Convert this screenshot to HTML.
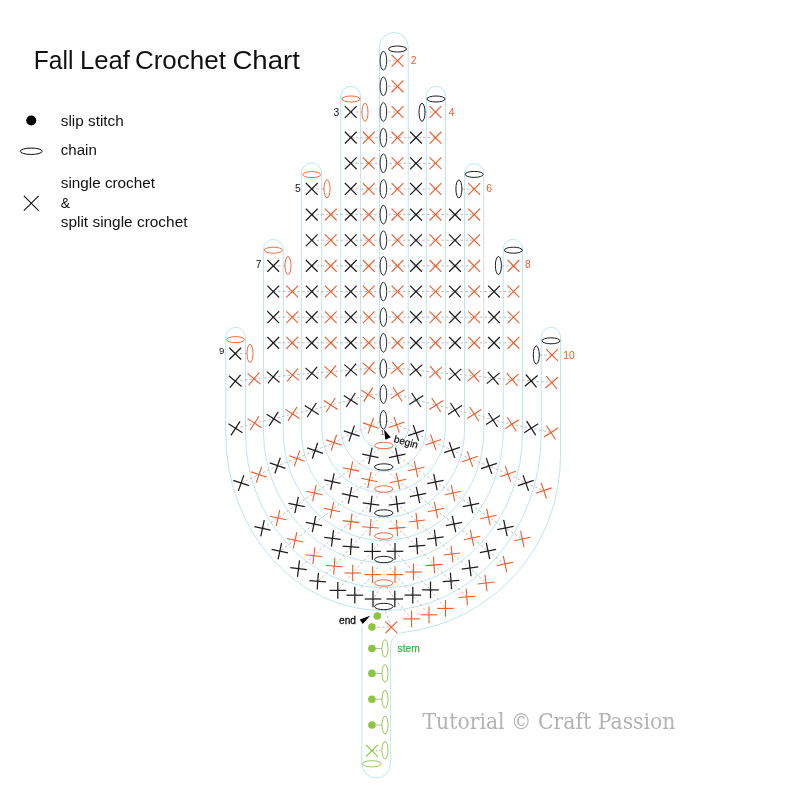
<!DOCTYPE html>
<html><head><meta charset="utf-8"><title>Fall Leaf Crochet Chart</title>
<style>
html,body{margin:0;padding:0;background:#fff;-webkit-font-smoothing:antialiased;}
body{width:800px;height:800px;overflow:hidden;}
svg{display:block;font-family:"Liberation Sans",sans-serif;will-change:transform;opacity:0.999;}
</style></head><body>
<svg width="800" height="800" viewBox="0 0 800 800">
<rect width="800" height="800" fill="#fff"/>
<path d="M379.5,428.5 V46.9 A14.375,14.375 0 0 1 408.25,46.9 V428 A23.88,21.30 0 0 1 360.5,428 V96 A9.88,9.88 0 0 0 340.75,96 V428.5 A42.75,42.80 0 0 0 426.25,428.5 V96 A9.62,9.62 0 0 1 445.5,96 V429 A61.88,64.50 0 0 1 321.75,429 V173.2 A10.22,10.22 0 0 0 301.3,173.2 V430 A81.60,87.50 0 0 0 464.5,430 V173.2 A9.62,9.62 0 0 1 483.75,173.2 V431 A100.25,109.50 0 0 1 283.25,431 V249 A9.88,9.88 0 0 0 263.5,249 V432 A119.88,132.00 0 0 0 503.25,432 V249 A9.62,9.62 0 0 1 522.5,249 V433 A138.50,154.70 0 0 1 245.5,433 V337 A9.88,9.88 0 0 0 225.75,337 V434 A157.75,176.60 0 0 0 541.25,434 V337 A9.62,9.62 0 0 1 560.5,337 V456.5 A177,177 0 0 1 403.05,632.42 A14,14 0 0 0 390.6,646.33 V763.6 A14.35,14.35 0 0 1 361.9,763.6 V625.5" fill="none" stroke="#addfea" stroke-width="0.8"/>
<polyline points="383.4,60.7 397.5,60.7" fill="none" stroke="#a2a2a2" stroke-width="0.7" stroke-dasharray="2.6 2.2"/>
<polyline points="383.4,86.3 397.5,86.3" fill="none" stroke="#a2a2a2" stroke-width="0.7" stroke-dasharray="2.6 2.2"/>
<polyline points="351.0,112.0 362.0,112.0" fill="none" stroke="#a2a2a2" stroke-width="0.7" stroke-dasharray="2.6 2.2"/>
<polyline points="383.4,112.0 397.5,112.0" fill="none" stroke="#a2a2a2" stroke-width="0.7" stroke-dasharray="2.6 2.2"/>
<polyline points="425.0,112.0 436.0,112.0" fill="none" stroke="#a2a2a2" stroke-width="0.7" stroke-dasharray="2.6 2.2"/>
<polyline points="351.0,137.6 436.0,137.6" fill="none" stroke="#a2a2a2" stroke-width="0.7" stroke-dasharray="2.6 2.2"/>
<polyline points="351.0,163.3 436.0,163.3" fill="none" stroke="#a2a2a2" stroke-width="0.7" stroke-dasharray="2.6 2.2"/>
<polyline points="311.8,188.9 324.0,188.9" fill="none" stroke="#a2a2a2" stroke-width="0.7" stroke-dasharray="2.6 2.2"/>
<polyline points="350.8,188.9 435.5,188.9" fill="none" stroke="#a2a2a2" stroke-width="0.7" stroke-dasharray="2.6 2.2"/>
<polyline points="462.0,188.9 474.2,188.9" fill="none" stroke="#a2a2a2" stroke-width="0.7" stroke-dasharray="2.6 2.2"/>
<polyline points="311.8,214.6 474.2,214.6" fill="none" stroke="#a2a2a2" stroke-width="0.7" stroke-dasharray="2.6 2.2"/>
<polyline points="311.8,240.2 474.2,240.2" fill="none" stroke="#a2a2a2" stroke-width="0.7" stroke-dasharray="2.6 2.2"/>
<polyline points="273.2,265.9 285.0,265.9" fill="none" stroke="#a2a2a2" stroke-width="0.7" stroke-dasharray="2.6 2.2"/>
<polyline points="311.8,265.9 474.2,265.9" fill="none" stroke="#a2a2a2" stroke-width="0.7" stroke-dasharray="2.6 2.2"/>
<polyline points="501.5,265.9 513.5,265.9" fill="none" stroke="#a2a2a2" stroke-width="0.7" stroke-dasharray="2.6 2.2"/>
<polyline points="273.2,291.6 513.5,291.6" fill="none" stroke="#a2a2a2" stroke-width="0.7" stroke-dasharray="2.6 2.2"/>
<polyline points="273.2,317.2 513.5,317.2" fill="none" stroke="#a2a2a2" stroke-width="0.7" stroke-dasharray="2.6 2.2"/>
<polyline points="273.2,342.8 513.5,342.8" fill="none" stroke="#a2a2a2" stroke-width="0.7" stroke-dasharray="2.6 2.2"/>
<polyline points="235.2,353.5 247.0,353.5" fill="none" stroke="#a2a2a2" stroke-width="0.7" stroke-dasharray="2.6 2.2"/>
<polyline points="539.4,355.0 552.0,355.0" fill="none" stroke="#a2a2a2" stroke-width="0.7" stroke-dasharray="2.6 2.2"/>
<polyline points="235.2,381.2 254.0,378.8 273.2,377.0 292.5,375.0 311.8,373.2 330.8,371.8 350.8,370.0 369.0,368.2 383.4,368.5 397.5,368.2 416.0,370.0 435.5,372.5 455.0,374.2 474.0,375.8 493.2,378.2 512.2,379.5 531.2,380.9 551.7,382.6" fill="none" stroke="#a2a2a2" stroke-width="0.7" stroke-dasharray="2.6 2.2"/>
<polyline points="235.5,428.3 254.5,423.2 273.7,418.8 292.5,413.9 311.8,410.0 330.8,405.0 350.8,400.0 368.2,394.6 383.4,394.1 397.5,394.3 416.2,400.0 436.2,405.0 455.0,410.0 474.2,414.0 493.0,420.0 511.8,424.3 531.2,428.2 551.0,432.5" fill="none" stroke="#a2a2a2" stroke-width="0.7" stroke-dasharray="2.6 2.2"/>
<polyline points="241.1,483.0 259.0,474.6 277.6,465.6 297.0,458.5 315.0,450.6 333.9,442.6 351.7,433.5 370.8,425.6 383.4,419.8 396.6,424.7 416.0,433.0 433.3,442.3 452.0,450.0 470.0,459.0 489.0,466.0 508.0,474.0 525.8,483.0 543.8,490.6" fill="none" stroke="#a2a2a2" stroke-width="0.7" stroke-dasharray="2.6 2.2"/>
<polyline points="383.8,445.5 370.4,455.9 351.0,469.4 332.4,481.6 314.4,493.0 296.6,505.0 278.0,518.0 262.5,528.3" fill="none" stroke="#a2a2a2" stroke-width="0.7" stroke-dasharray="2.6 2.2"/>
<polyline points="383.8,467.0 369.4,480.0 350.0,495.4 332.0,510.0 314.0,524.0 295.1,540.2 279.8,551.2" fill="none" stroke="#a2a2a2" stroke-width="0.7" stroke-dasharray="2.6 2.2"/>
<polyline points="383.8,489.0 371.0,504.0 351.0,521.6 332.5,538.4 313.9,555.7 298.5,568.6" fill="none" stroke="#a2a2a2" stroke-width="0.7" stroke-dasharray="2.6 2.2"/>
<polyline points="383.8,513.0 370.4,527.4 351.0,546.7 334.3,566.1 317.8,581.2" fill="none" stroke="#a2a2a2" stroke-width="0.7" stroke-dasharray="2.6 2.2"/>
<polyline points="383.8,536.0 372.4,551.4 352.7,573.0 337.8,590.4" fill="none" stroke="#a2a2a2" stroke-width="0.7" stroke-dasharray="2.6 2.2"/>
<polyline points="383.8,559.5 372.6,574.6 354.8,595.2" fill="none" stroke="#a2a2a2" stroke-width="0.7" stroke-dasharray="2.6 2.2"/>
<polyline points="383.8,583.0 373.0,599.0" fill="none" stroke="#a2a2a2" stroke-width="0.7" stroke-dasharray="2.6 2.2"/>
<polyline points="383.8,445.5 397.2,455.8 416.0,469.0 435.4,482.0 453.0,493.0 471.0,505.0 488.4,517.0 505.4,528.0 522.3,539.0" fill="none" stroke="#a2a2a2" stroke-width="0.7" stroke-dasharray="2.6 2.2"/>
<polyline points="383.8,467.0 398.0,481.0 418.0,495.0 436.0,510.0 454.0,524.0 472.0,538.0 488.0,551.0 505.0,564.0" fill="none" stroke="#a2a2a2" stroke-width="0.7" stroke-dasharray="2.6 2.2"/>
<polyline points="383.8,489.0 397.0,504.0 417.0,521.0 435.4,538.0 452.0,554.0 470.0,568.0 486.0,583.0" fill="none" stroke="#a2a2a2" stroke-width="0.7" stroke-dasharray="2.6 2.2"/>
<polyline points="383.8,513.0 397.0,528.0 417.0,546.0 434.0,565.0 451.0,581.0 466.8,596.9" fill="none" stroke="#a2a2a2" stroke-width="0.7" stroke-dasharray="2.6 2.2"/>
<polyline points="383.8,536.0 395.0,551.3 413.5,572.0 430.5,589.9 445.5,608.4" fill="none" stroke="#a2a2a2" stroke-width="0.7" stroke-dasharray="2.6 2.2"/>
<polyline points="383.8,559.5 395.0,574.6 412.8,595.1 429.0,614.8" fill="none" stroke="#a2a2a2" stroke-width="0.7" stroke-dasharray="2.6 2.2"/>
<polyline points="383.8,583.0 394.8,599.0 411.6,618.9" fill="none" stroke="#a2a2a2" stroke-width="0.7" stroke-dasharray="2.6 2.2"/>
<polyline points="383.8,606.5 391.3,627.2 372.0,627.2" fill="none" stroke="#a2a2a2" stroke-width="0.7" stroke-dasharray="2.6 2.2"/>
<line x1="372" y1="648.5" x2="382" y2="648.5" stroke="#a2a2a2" stroke-width="0.8"/>
<line x1="372" y1="673.4" x2="382" y2="673.4" stroke="#a2a2a2" stroke-width="0.8"/>
<line x1="372" y1="699.2" x2="382" y2="699.2" stroke="#a2a2a2" stroke-width="0.8"/>
<line x1="372" y1="725" x2="382" y2="725" stroke="#a2a2a2" stroke-width="0.8"/>
<line x1="372" y1="750.7" x2="382" y2="750.7" stroke="#a2a2a2" stroke-width="0.8" stroke-dasharray="2 1.6"/>
<ellipse cx="383.4" cy="60.7" rx="3.3" ry="9.3" fill="#fff" stroke="#2a2a2a" stroke-width="1.0"/>
<ellipse cx="383.4" cy="86.35" rx="3.3" ry="9.3" fill="#fff" stroke="#2a2a2a" stroke-width="1.0"/>
<ellipse cx="383.4" cy="112.0" rx="3.3" ry="9.3" fill="#fff" stroke="#2a2a2a" stroke-width="1.0"/>
<ellipse cx="383.4" cy="137.64999999999998" rx="3.3" ry="9.3" fill="#fff" stroke="#2a2a2a" stroke-width="1.0"/>
<ellipse cx="383.4" cy="163.3" rx="3.3" ry="9.3" fill="#fff" stroke="#2a2a2a" stroke-width="1.0"/>
<ellipse cx="383.4" cy="188.95" rx="3.3" ry="9.3" fill="#fff" stroke="#2a2a2a" stroke-width="1.0"/>
<ellipse cx="383.4" cy="214.59999999999997" rx="3.3" ry="9.3" fill="#fff" stroke="#2a2a2a" stroke-width="1.0"/>
<ellipse cx="383.4" cy="240.25" rx="3.3" ry="9.3" fill="#fff" stroke="#2a2a2a" stroke-width="1.0"/>
<ellipse cx="383.4" cy="265.9" rx="3.3" ry="9.3" fill="#fff" stroke="#2a2a2a" stroke-width="1.0"/>
<ellipse cx="383.4" cy="291.55" rx="3.3" ry="9.3" fill="#fff" stroke="#2a2a2a" stroke-width="1.0"/>
<ellipse cx="383.4" cy="317.2" rx="3.3" ry="9.3" fill="#fff" stroke="#2a2a2a" stroke-width="1.0"/>
<ellipse cx="383.4" cy="342.84999999999997" rx="3.3" ry="9.3" fill="#fff" stroke="#2a2a2a" stroke-width="1.0"/>
<ellipse cx="383.4" cy="368.49999999999994" rx="3.3" ry="9.3" fill="#fff" stroke="#2a2a2a" stroke-width="1.0"/>
<ellipse cx="383.4" cy="394.15" rx="3.3" ry="9.3" fill="#fff" stroke="#2a2a2a" stroke-width="1.0"/>
<ellipse cx="383.4" cy="419.79999999999995" rx="3.3" ry="9.3" fill="#fff" stroke="#2a2a2a" stroke-width="1.0"/>
<ellipse cx="351" cy="99" rx="9.0" ry="3.0" fill="none" stroke="#f05a28" stroke-width="0.9"/>
<ellipse cx="365" cy="112.3" rx="3.0" ry="9.0" fill="none" stroke="#f05a28" stroke-width="0.9"/>
<ellipse cx="436" cy="99" rx="9.0" ry="3.0" fill="none" stroke="#1d1d1d" stroke-width="1.0"/>
<ellipse cx="422" cy="112.3" rx="3.0" ry="9.0" fill="none" stroke="#1d1d1d" stroke-width="1.0"/>
<ellipse cx="311.75" cy="174.6" rx="9.0" ry="3.0" fill="none" stroke="#f05a28" stroke-width="0.9"/>
<ellipse cx="327" cy="188.9" rx="3.0" ry="9.0" fill="none" stroke="#f05a28" stroke-width="0.9"/>
<ellipse cx="474.2" cy="174.4" rx="9.0" ry="3.0" fill="none" stroke="#1d1d1d" stroke-width="1.0"/>
<ellipse cx="458.9" cy="188.9" rx="3.0" ry="9.0" fill="none" stroke="#1d1d1d" stroke-width="1.0"/>
<ellipse cx="273.25" cy="250.2" rx="9.0" ry="3.0" fill="none" stroke="#f05a28" stroke-width="0.9"/>
<ellipse cx="288" cy="265.5" rx="3.0" ry="9.0" fill="none" stroke="#f05a28" stroke-width="0.9"/>
<ellipse cx="513.3" cy="250.2" rx="9.0" ry="3.0" fill="none" stroke="#1d1d1d" stroke-width="1.0"/>
<ellipse cx="498.4" cy="265.5" rx="3.0" ry="9.0" fill="none" stroke="#1d1d1d" stroke-width="1.0"/>
<ellipse cx="235.6" cy="339.6" rx="9.0" ry="3.0" fill="none" stroke="#f05a28" stroke-width="0.9"/>
<ellipse cx="250" cy="353.4" rx="3.0" ry="9.0" fill="none" stroke="#f05a28" stroke-width="0.9"/>
<ellipse cx="551" cy="340.8" rx="9.0" ry="3.0" fill="none" stroke="#1d1d1d" stroke-width="1.0"/>
<ellipse cx="536.3" cy="355" rx="3.0" ry="9.0" fill="none" stroke="#1d1d1d" stroke-width="1.0"/>
<ellipse cx="397.5" cy="49" rx="9.0" ry="3.0" fill="none" stroke="#1d1d1d" stroke-width="1.0"/>
<ellipse cx="383.8" cy="445.5" rx="9.2" ry="3.2" fill="#fff" stroke="#f05a28" stroke-width="0.9"/>
<ellipse cx="383.8" cy="467" rx="9.2" ry="3.2" fill="#fff" stroke="#1d1d1d" stroke-width="1.0"/>
<ellipse cx="383.8" cy="489" rx="9.2" ry="3.2" fill="#fff" stroke="#f05a28" stroke-width="0.9"/>
<ellipse cx="383.8" cy="513" rx="9.2" ry="3.2" fill="#fff" stroke="#1d1d1d" stroke-width="1.0"/>
<ellipse cx="383.8" cy="536" rx="9.2" ry="3.2" fill="#fff" stroke="#f05a28" stroke-width="0.9"/>
<ellipse cx="383.8" cy="559.5" rx="9.2" ry="3.2" fill="#fff" stroke="#1d1d1d" stroke-width="1.0"/>
<ellipse cx="383.8" cy="583" rx="9.2" ry="3.2" fill="#fff" stroke="#f05a28" stroke-width="0.9"/>
<ellipse cx="383.8" cy="606.5" rx="9.2" ry="3.2" fill="#fff" stroke="#1d1d1d" stroke-width="1.0"/>
<g transform="translate(368.75,137.65) rotate(45)" stroke="#f05a28" stroke-width="1.1"><line x1="-8.34" y1="0" x2="8.34" y2="0"/><line x1="0" y1="-8.34" x2="0" y2="8.34"/></g>
<g transform="translate(368.75,163.30) rotate(45)" stroke="#f05a28" stroke-width="1.1"><line x1="-8.34" y1="0" x2="8.34" y2="0"/><line x1="0" y1="-8.34" x2="0" y2="8.34"/></g>
<g transform="translate(368.75,188.95) rotate(45)" stroke="#f05a28" stroke-width="1.1"><line x1="-8.34" y1="0" x2="8.34" y2="0"/><line x1="0" y1="-8.34" x2="0" y2="8.34"/></g>
<g transform="translate(368.75,214.60) rotate(45)" stroke="#f05a28" stroke-width="1.1"><line x1="-8.34" y1="0" x2="8.34" y2="0"/><line x1="0" y1="-8.34" x2="0" y2="8.34"/></g>
<g transform="translate(368.75,240.25) rotate(45)" stroke="#f05a28" stroke-width="1.1"><line x1="-8.34" y1="0" x2="8.34" y2="0"/><line x1="0" y1="-8.34" x2="0" y2="8.34"/></g>
<g transform="translate(368.75,265.90) rotate(45)" stroke="#f05a28" stroke-width="1.1"><line x1="-8.34" y1="0" x2="8.34" y2="0"/><line x1="0" y1="-8.34" x2="0" y2="8.34"/></g>
<g transform="translate(368.75,291.55) rotate(45)" stroke="#f05a28" stroke-width="1.1"><line x1="-8.34" y1="0" x2="8.34" y2="0"/><line x1="0" y1="-8.34" x2="0" y2="8.34"/></g>
<g transform="translate(368.75,317.20) rotate(45)" stroke="#f05a28" stroke-width="1.1"><line x1="-8.34" y1="0" x2="8.34" y2="0"/><line x1="0" y1="-8.34" x2="0" y2="8.34"/></g>
<g transform="translate(368.75,342.85) rotate(45)" stroke="#f05a28" stroke-width="1.1"><line x1="-8.34" y1="0" x2="8.34" y2="0"/><line x1="0" y1="-8.34" x2="0" y2="8.34"/></g>
<g transform="translate(350.75,112.00) rotate(45)" stroke="#1d1d1d" stroke-width="1.25"><line x1="-8.34" y1="0" x2="8.34" y2="0"/><line x1="0" y1="-8.34" x2="0" y2="8.34"/></g>
<g transform="translate(350.75,137.65) rotate(45)" stroke="#1d1d1d" stroke-width="1.25"><line x1="-8.34" y1="0" x2="8.34" y2="0"/><line x1="0" y1="-8.34" x2="0" y2="8.34"/></g>
<g transform="translate(350.75,163.30) rotate(45)" stroke="#1d1d1d" stroke-width="1.25"><line x1="-8.34" y1="0" x2="8.34" y2="0"/><line x1="0" y1="-8.34" x2="0" y2="8.34"/></g>
<g transform="translate(350.75,188.95) rotate(45)" stroke="#1d1d1d" stroke-width="1.25"><line x1="-8.34" y1="0" x2="8.34" y2="0"/><line x1="0" y1="-8.34" x2="0" y2="8.34"/></g>
<g transform="translate(350.75,214.60) rotate(45)" stroke="#1d1d1d" stroke-width="1.25"><line x1="-8.34" y1="0" x2="8.34" y2="0"/><line x1="0" y1="-8.34" x2="0" y2="8.34"/></g>
<g transform="translate(350.75,240.25) rotate(45)" stroke="#1d1d1d" stroke-width="1.25"><line x1="-8.34" y1="0" x2="8.34" y2="0"/><line x1="0" y1="-8.34" x2="0" y2="8.34"/></g>
<g transform="translate(350.75,265.90) rotate(45)" stroke="#1d1d1d" stroke-width="1.25"><line x1="-8.34" y1="0" x2="8.34" y2="0"/><line x1="0" y1="-8.34" x2="0" y2="8.34"/></g>
<g transform="translate(350.75,291.55) rotate(45)" stroke="#1d1d1d" stroke-width="1.25"><line x1="-8.34" y1="0" x2="8.34" y2="0"/><line x1="0" y1="-8.34" x2="0" y2="8.34"/></g>
<g transform="translate(350.75,317.20) rotate(45)" stroke="#1d1d1d" stroke-width="1.25"><line x1="-8.34" y1="0" x2="8.34" y2="0"/><line x1="0" y1="-8.34" x2="0" y2="8.34"/></g>
<g transform="translate(350.75,342.85) rotate(45)" stroke="#1d1d1d" stroke-width="1.25"><line x1="-8.34" y1="0" x2="8.34" y2="0"/><line x1="0" y1="-8.34" x2="0" y2="8.34"/></g>
<g transform="translate(330.75,214.60) rotate(45)" stroke="#f05a28" stroke-width="1.1"><line x1="-8.34" y1="0" x2="8.34" y2="0"/><line x1="0" y1="-8.34" x2="0" y2="8.34"/></g>
<g transform="translate(330.75,240.25) rotate(45)" stroke="#f05a28" stroke-width="1.1"><line x1="-8.34" y1="0" x2="8.34" y2="0"/><line x1="0" y1="-8.34" x2="0" y2="8.34"/></g>
<g transform="translate(330.75,265.90) rotate(45)" stroke="#f05a28" stroke-width="1.1"><line x1="-8.34" y1="0" x2="8.34" y2="0"/><line x1="0" y1="-8.34" x2="0" y2="8.34"/></g>
<g transform="translate(330.75,291.55) rotate(45)" stroke="#f05a28" stroke-width="1.1"><line x1="-8.34" y1="0" x2="8.34" y2="0"/><line x1="0" y1="-8.34" x2="0" y2="8.34"/></g>
<g transform="translate(330.75,317.20) rotate(45)" stroke="#f05a28" stroke-width="1.1"><line x1="-8.34" y1="0" x2="8.34" y2="0"/><line x1="0" y1="-8.34" x2="0" y2="8.34"/></g>
<g transform="translate(330.75,342.85) rotate(45)" stroke="#f05a28" stroke-width="1.1"><line x1="-8.34" y1="0" x2="8.34" y2="0"/><line x1="0" y1="-8.34" x2="0" y2="8.34"/></g>
<g transform="translate(311.75,188.95) rotate(45)" stroke="#1d1d1d" stroke-width="1.25"><line x1="-8.34" y1="0" x2="8.34" y2="0"/><line x1="0" y1="-8.34" x2="0" y2="8.34"/></g>
<g transform="translate(311.75,214.60) rotate(45)" stroke="#1d1d1d" stroke-width="1.25"><line x1="-8.34" y1="0" x2="8.34" y2="0"/><line x1="0" y1="-8.34" x2="0" y2="8.34"/></g>
<g transform="translate(311.75,240.25) rotate(45)" stroke="#1d1d1d" stroke-width="1.25"><line x1="-8.34" y1="0" x2="8.34" y2="0"/><line x1="0" y1="-8.34" x2="0" y2="8.34"/></g>
<g transform="translate(311.75,265.90) rotate(45)" stroke="#1d1d1d" stroke-width="1.25"><line x1="-8.34" y1="0" x2="8.34" y2="0"/><line x1="0" y1="-8.34" x2="0" y2="8.34"/></g>
<g transform="translate(311.75,291.55) rotate(45)" stroke="#1d1d1d" stroke-width="1.25"><line x1="-8.34" y1="0" x2="8.34" y2="0"/><line x1="0" y1="-8.34" x2="0" y2="8.34"/></g>
<g transform="translate(311.75,317.20) rotate(45)" stroke="#1d1d1d" stroke-width="1.25"><line x1="-8.34" y1="0" x2="8.34" y2="0"/><line x1="0" y1="-8.34" x2="0" y2="8.34"/></g>
<g transform="translate(311.75,342.85) rotate(45)" stroke="#1d1d1d" stroke-width="1.25"><line x1="-8.34" y1="0" x2="8.34" y2="0"/><line x1="0" y1="-8.34" x2="0" y2="8.34"/></g>
<g transform="translate(292.20,291.55) rotate(45)" stroke="#f05a28" stroke-width="1.1"><line x1="-8.34" y1="0" x2="8.34" y2="0"/><line x1="0" y1="-8.34" x2="0" y2="8.34"/></g>
<g transform="translate(292.20,317.20) rotate(45)" stroke="#f05a28" stroke-width="1.1"><line x1="-8.34" y1="0" x2="8.34" y2="0"/><line x1="0" y1="-8.34" x2="0" y2="8.34"/></g>
<g transform="translate(292.20,342.85) rotate(45)" stroke="#f05a28" stroke-width="1.1"><line x1="-8.34" y1="0" x2="8.34" y2="0"/><line x1="0" y1="-8.34" x2="0" y2="8.34"/></g>
<g transform="translate(273.25,265.90) rotate(45)" stroke="#1d1d1d" stroke-width="1.25"><line x1="-8.34" y1="0" x2="8.34" y2="0"/><line x1="0" y1="-8.34" x2="0" y2="8.34"/></g>
<g transform="translate(273.25,291.55) rotate(45)" stroke="#1d1d1d" stroke-width="1.25"><line x1="-8.34" y1="0" x2="8.34" y2="0"/><line x1="0" y1="-8.34" x2="0" y2="8.34"/></g>
<g transform="translate(273.25,317.20) rotate(45)" stroke="#1d1d1d" stroke-width="1.25"><line x1="-8.34" y1="0" x2="8.34" y2="0"/><line x1="0" y1="-8.34" x2="0" y2="8.34"/></g>
<g transform="translate(273.25,342.85) rotate(45)" stroke="#1d1d1d" stroke-width="1.25"><line x1="-8.34" y1="0" x2="8.34" y2="0"/><line x1="0" y1="-8.34" x2="0" y2="8.34"/></g>
<g transform="translate(397.50,60.70) rotate(45)" stroke="#f05a28" stroke-width="1.1"><line x1="-8.34" y1="0" x2="8.34" y2="0"/><line x1="0" y1="-8.34" x2="0" y2="8.34"/></g>
<g transform="translate(397.50,86.35) rotate(45)" stroke="#f05a28" stroke-width="1.1"><line x1="-8.34" y1="0" x2="8.34" y2="0"/><line x1="0" y1="-8.34" x2="0" y2="8.34"/></g>
<g transform="translate(397.50,112.00) rotate(45)" stroke="#f05a28" stroke-width="1.1"><line x1="-8.34" y1="0" x2="8.34" y2="0"/><line x1="0" y1="-8.34" x2="0" y2="8.34"/></g>
<g transform="translate(397.50,137.65) rotate(45)" stroke="#f05a28" stroke-width="1.1"><line x1="-8.34" y1="0" x2="8.34" y2="0"/><line x1="0" y1="-8.34" x2="0" y2="8.34"/></g>
<g transform="translate(397.50,163.30) rotate(45)" stroke="#f05a28" stroke-width="1.1"><line x1="-8.34" y1="0" x2="8.34" y2="0"/><line x1="0" y1="-8.34" x2="0" y2="8.34"/></g>
<g transform="translate(397.50,188.95) rotate(45)" stroke="#f05a28" stroke-width="1.1"><line x1="-8.34" y1="0" x2="8.34" y2="0"/><line x1="0" y1="-8.34" x2="0" y2="8.34"/></g>
<g transform="translate(397.50,214.60) rotate(45)" stroke="#f05a28" stroke-width="1.1"><line x1="-8.34" y1="0" x2="8.34" y2="0"/><line x1="0" y1="-8.34" x2="0" y2="8.34"/></g>
<g transform="translate(397.50,240.25) rotate(45)" stroke="#f05a28" stroke-width="1.1"><line x1="-8.34" y1="0" x2="8.34" y2="0"/><line x1="0" y1="-8.34" x2="0" y2="8.34"/></g>
<g transform="translate(397.50,265.90) rotate(45)" stroke="#f05a28" stroke-width="1.1"><line x1="-8.34" y1="0" x2="8.34" y2="0"/><line x1="0" y1="-8.34" x2="0" y2="8.34"/></g>
<g transform="translate(397.50,291.55) rotate(45)" stroke="#f05a28" stroke-width="1.1"><line x1="-8.34" y1="0" x2="8.34" y2="0"/><line x1="0" y1="-8.34" x2="0" y2="8.34"/></g>
<g transform="translate(397.50,317.20) rotate(45)" stroke="#f05a28" stroke-width="1.1"><line x1="-8.34" y1="0" x2="8.34" y2="0"/><line x1="0" y1="-8.34" x2="0" y2="8.34"/></g>
<g transform="translate(397.50,342.85) rotate(45)" stroke="#f05a28" stroke-width="1.1"><line x1="-8.34" y1="0" x2="8.34" y2="0"/><line x1="0" y1="-8.34" x2="0" y2="8.34"/></g>
<g transform="translate(416.00,137.65) rotate(45)" stroke="#1d1d1d" stroke-width="1.25"><line x1="-8.34" y1="0" x2="8.34" y2="0"/><line x1="0" y1="-8.34" x2="0" y2="8.34"/></g>
<g transform="translate(416.00,163.30) rotate(45)" stroke="#1d1d1d" stroke-width="1.25"><line x1="-8.34" y1="0" x2="8.34" y2="0"/><line x1="0" y1="-8.34" x2="0" y2="8.34"/></g>
<g transform="translate(416.00,188.95) rotate(45)" stroke="#1d1d1d" stroke-width="1.25"><line x1="-8.34" y1="0" x2="8.34" y2="0"/><line x1="0" y1="-8.34" x2="0" y2="8.34"/></g>
<g transform="translate(416.00,214.60) rotate(45)" stroke="#1d1d1d" stroke-width="1.25"><line x1="-8.34" y1="0" x2="8.34" y2="0"/><line x1="0" y1="-8.34" x2="0" y2="8.34"/></g>
<g transform="translate(416.00,240.25) rotate(45)" stroke="#1d1d1d" stroke-width="1.25"><line x1="-8.34" y1="0" x2="8.34" y2="0"/><line x1="0" y1="-8.34" x2="0" y2="8.34"/></g>
<g transform="translate(416.00,265.90) rotate(45)" stroke="#1d1d1d" stroke-width="1.25"><line x1="-8.34" y1="0" x2="8.34" y2="0"/><line x1="0" y1="-8.34" x2="0" y2="8.34"/></g>
<g transform="translate(416.00,291.55) rotate(45)" stroke="#1d1d1d" stroke-width="1.25"><line x1="-8.34" y1="0" x2="8.34" y2="0"/><line x1="0" y1="-8.34" x2="0" y2="8.34"/></g>
<g transform="translate(416.00,317.20) rotate(45)" stroke="#1d1d1d" stroke-width="1.25"><line x1="-8.34" y1="0" x2="8.34" y2="0"/><line x1="0" y1="-8.34" x2="0" y2="8.34"/></g>
<g transform="translate(416.00,342.85) rotate(45)" stroke="#1d1d1d" stroke-width="1.25"><line x1="-8.34" y1="0" x2="8.34" y2="0"/><line x1="0" y1="-8.34" x2="0" y2="8.34"/></g>
<g transform="translate(435.50,112.00) rotate(45)" stroke="#f05a28" stroke-width="1.1"><line x1="-8.34" y1="0" x2="8.34" y2="0"/><line x1="0" y1="-8.34" x2="0" y2="8.34"/></g>
<g transform="translate(435.50,137.65) rotate(45)" stroke="#f05a28" stroke-width="1.1"><line x1="-8.34" y1="0" x2="8.34" y2="0"/><line x1="0" y1="-8.34" x2="0" y2="8.34"/></g>
<g transform="translate(435.50,163.30) rotate(45)" stroke="#f05a28" stroke-width="1.1"><line x1="-8.34" y1="0" x2="8.34" y2="0"/><line x1="0" y1="-8.34" x2="0" y2="8.34"/></g>
<g transform="translate(435.50,188.95) rotate(45)" stroke="#f05a28" stroke-width="1.1"><line x1="-8.34" y1="0" x2="8.34" y2="0"/><line x1="0" y1="-8.34" x2="0" y2="8.34"/></g>
<g transform="translate(435.50,214.60) rotate(45)" stroke="#f05a28" stroke-width="1.1"><line x1="-8.34" y1="0" x2="8.34" y2="0"/><line x1="0" y1="-8.34" x2="0" y2="8.34"/></g>
<g transform="translate(435.50,240.25) rotate(45)" stroke="#f05a28" stroke-width="1.1"><line x1="-8.34" y1="0" x2="8.34" y2="0"/><line x1="0" y1="-8.34" x2="0" y2="8.34"/></g>
<g transform="translate(435.50,265.90) rotate(45)" stroke="#f05a28" stroke-width="1.1"><line x1="-8.34" y1="0" x2="8.34" y2="0"/><line x1="0" y1="-8.34" x2="0" y2="8.34"/></g>
<g transform="translate(435.50,291.55) rotate(45)" stroke="#f05a28" stroke-width="1.1"><line x1="-8.34" y1="0" x2="8.34" y2="0"/><line x1="0" y1="-8.34" x2="0" y2="8.34"/></g>
<g transform="translate(435.50,317.20) rotate(45)" stroke="#f05a28" stroke-width="1.1"><line x1="-8.34" y1="0" x2="8.34" y2="0"/><line x1="0" y1="-8.34" x2="0" y2="8.34"/></g>
<g transform="translate(435.50,342.85) rotate(45)" stroke="#f05a28" stroke-width="1.1"><line x1="-8.34" y1="0" x2="8.34" y2="0"/><line x1="0" y1="-8.34" x2="0" y2="8.34"/></g>
<g transform="translate(455.00,214.60) rotate(45)" stroke="#1d1d1d" stroke-width="1.25"><line x1="-8.34" y1="0" x2="8.34" y2="0"/><line x1="0" y1="-8.34" x2="0" y2="8.34"/></g>
<g transform="translate(455.00,240.25) rotate(45)" stroke="#1d1d1d" stroke-width="1.25"><line x1="-8.34" y1="0" x2="8.34" y2="0"/><line x1="0" y1="-8.34" x2="0" y2="8.34"/></g>
<g transform="translate(455.00,265.90) rotate(45)" stroke="#1d1d1d" stroke-width="1.25"><line x1="-8.34" y1="0" x2="8.34" y2="0"/><line x1="0" y1="-8.34" x2="0" y2="8.34"/></g>
<g transform="translate(455.00,291.55) rotate(45)" stroke="#1d1d1d" stroke-width="1.25"><line x1="-8.34" y1="0" x2="8.34" y2="0"/><line x1="0" y1="-8.34" x2="0" y2="8.34"/></g>
<g transform="translate(455.00,317.20) rotate(45)" stroke="#1d1d1d" stroke-width="1.25"><line x1="-8.34" y1="0" x2="8.34" y2="0"/><line x1="0" y1="-8.34" x2="0" y2="8.34"/></g>
<g transform="translate(455.00,342.85) rotate(45)" stroke="#1d1d1d" stroke-width="1.25"><line x1="-8.34" y1="0" x2="8.34" y2="0"/><line x1="0" y1="-8.34" x2="0" y2="8.34"/></g>
<g transform="translate(474.20,188.95) rotate(45)" stroke="#f05a28" stroke-width="1.1"><line x1="-8.34" y1="0" x2="8.34" y2="0"/><line x1="0" y1="-8.34" x2="0" y2="8.34"/></g>
<g transform="translate(474.20,214.60) rotate(45)" stroke="#f05a28" stroke-width="1.1"><line x1="-8.34" y1="0" x2="8.34" y2="0"/><line x1="0" y1="-8.34" x2="0" y2="8.34"/></g>
<g transform="translate(474.20,240.25) rotate(45)" stroke="#f05a28" stroke-width="1.1"><line x1="-8.34" y1="0" x2="8.34" y2="0"/><line x1="0" y1="-8.34" x2="0" y2="8.34"/></g>
<g transform="translate(474.20,265.90) rotate(45)" stroke="#f05a28" stroke-width="1.1"><line x1="-8.34" y1="0" x2="8.34" y2="0"/><line x1="0" y1="-8.34" x2="0" y2="8.34"/></g>
<g transform="translate(474.20,291.55) rotate(45)" stroke="#f05a28" stroke-width="1.1"><line x1="-8.34" y1="0" x2="8.34" y2="0"/><line x1="0" y1="-8.34" x2="0" y2="8.34"/></g>
<g transform="translate(474.20,317.20) rotate(45)" stroke="#f05a28" stroke-width="1.1"><line x1="-8.34" y1="0" x2="8.34" y2="0"/><line x1="0" y1="-8.34" x2="0" y2="8.34"/></g>
<g transform="translate(474.20,342.85) rotate(45)" stroke="#f05a28" stroke-width="1.1"><line x1="-8.34" y1="0" x2="8.34" y2="0"/><line x1="0" y1="-8.34" x2="0" y2="8.34"/></g>
<g transform="translate(494.00,291.55) rotate(45)" stroke="#1d1d1d" stroke-width="1.25"><line x1="-8.34" y1="0" x2="8.34" y2="0"/><line x1="0" y1="-8.34" x2="0" y2="8.34"/></g>
<g transform="translate(494.00,317.20) rotate(45)" stroke="#1d1d1d" stroke-width="1.25"><line x1="-8.34" y1="0" x2="8.34" y2="0"/><line x1="0" y1="-8.34" x2="0" y2="8.34"/></g>
<g transform="translate(494.00,342.85) rotate(45)" stroke="#1d1d1d" stroke-width="1.25"><line x1="-8.34" y1="0" x2="8.34" y2="0"/><line x1="0" y1="-8.34" x2="0" y2="8.34"/></g>
<g transform="translate(513.50,265.90) rotate(45)" stroke="#f05a28" stroke-width="1.1"><line x1="-8.34" y1="0" x2="8.34" y2="0"/><line x1="0" y1="-8.34" x2="0" y2="8.34"/></g>
<g transform="translate(513.50,291.55) rotate(45)" stroke="#f05a28" stroke-width="1.1"><line x1="-8.34" y1="0" x2="8.34" y2="0"/><line x1="0" y1="-8.34" x2="0" y2="8.34"/></g>
<g transform="translate(513.50,317.20) rotate(45)" stroke="#f05a28" stroke-width="1.1"><line x1="-8.34" y1="0" x2="8.34" y2="0"/><line x1="0" y1="-8.34" x2="0" y2="8.34"/></g>
<g transform="translate(513.50,342.85) rotate(45)" stroke="#f05a28" stroke-width="1.1"><line x1="-8.34" y1="0" x2="8.34" y2="0"/><line x1="0" y1="-8.34" x2="0" y2="8.34"/></g>
<g transform="translate(235.20,353.60) rotate(45)" stroke="#1d1d1d" stroke-width="1.25"><line x1="-8.34" y1="0" x2="8.34" y2="0"/><line x1="0" y1="-8.34" x2="0" y2="8.34"/></g>
<g transform="translate(552.00,355.00) rotate(45)" stroke="#f05a28" stroke-width="1.1"><line x1="-8.34" y1="0" x2="8.34" y2="0"/><line x1="0" y1="-8.34" x2="0" y2="8.34"/></g>
<g transform="translate(369.00,368.20) rotate(40)" stroke="#f05a28" stroke-width="1.1"><line x1="-8.34" y1="0" x2="8.34" y2="0"/><line x1="0" y1="-8.34" x2="0" y2="8.34"/></g>
<g transform="translate(350.75,370.00) rotate(40)" stroke="#1d1d1d" stroke-width="1.25"><line x1="-8.34" y1="0" x2="8.34" y2="0"/><line x1="0" y1="-8.34" x2="0" y2="8.34"/></g>
<g transform="translate(330.75,371.75) rotate(40)" stroke="#f05a28" stroke-width="1.1"><line x1="-8.34" y1="0" x2="8.34" y2="0"/><line x1="0" y1="-8.34" x2="0" y2="8.34"/></g>
<g transform="translate(311.75,373.25) rotate(40)" stroke="#1d1d1d" stroke-width="1.25"><line x1="-8.34" y1="0" x2="8.34" y2="0"/><line x1="0" y1="-8.34" x2="0" y2="8.34"/></g>
<g transform="translate(292.50,375.00) rotate(40)" stroke="#f05a28" stroke-width="1.1"><line x1="-8.34" y1="0" x2="8.34" y2="0"/><line x1="0" y1="-8.34" x2="0" y2="8.34"/></g>
<g transform="translate(273.20,377.00) rotate(40)" stroke="#1d1d1d" stroke-width="1.25"><line x1="-8.34" y1="0" x2="8.34" y2="0"/><line x1="0" y1="-8.34" x2="0" y2="8.34"/></g>
<g transform="translate(254.00,378.75) rotate(40)" stroke="#f05a28" stroke-width="1.1"><line x1="-8.34" y1="0" x2="8.34" y2="0"/><line x1="0" y1="-8.34" x2="0" y2="8.34"/></g>
<g transform="translate(235.20,381.20) rotate(40)" stroke="#1d1d1d" stroke-width="1.25"><line x1="-8.34" y1="0" x2="8.34" y2="0"/><line x1="0" y1="-8.34" x2="0" y2="8.34"/></g>
<g transform="translate(397.50,368.20) rotate(-40)" stroke="#f05a28" stroke-width="1.1"><line x1="-8.34" y1="0" x2="8.34" y2="0"/><line x1="0" y1="-8.34" x2="0" y2="8.34"/></g>
<g transform="translate(416.00,370.00) rotate(-40)" stroke="#1d1d1d" stroke-width="1.25"><line x1="-8.34" y1="0" x2="8.34" y2="0"/><line x1="0" y1="-8.34" x2="0" y2="8.34"/></g>
<g transform="translate(435.50,372.50) rotate(-40)" stroke="#f05a28" stroke-width="1.1"><line x1="-8.34" y1="0" x2="8.34" y2="0"/><line x1="0" y1="-8.34" x2="0" y2="8.34"/></g>
<g transform="translate(455.00,374.25) rotate(-40)" stroke="#1d1d1d" stroke-width="1.25"><line x1="-8.34" y1="0" x2="8.34" y2="0"/><line x1="0" y1="-8.34" x2="0" y2="8.34"/></g>
<g transform="translate(474.00,375.75) rotate(-40)" stroke="#f05a28" stroke-width="1.1"><line x1="-8.34" y1="0" x2="8.34" y2="0"/><line x1="0" y1="-8.34" x2="0" y2="8.34"/></g>
<g transform="translate(493.20,378.25) rotate(-40)" stroke="#1d1d1d" stroke-width="1.25"><line x1="-8.34" y1="0" x2="8.34" y2="0"/><line x1="0" y1="-8.34" x2="0" y2="8.34"/></g>
<g transform="translate(512.20,379.50) rotate(-40)" stroke="#f05a28" stroke-width="1.1"><line x1="-8.34" y1="0" x2="8.34" y2="0"/><line x1="0" y1="-8.34" x2="0" y2="8.34"/></g>
<g transform="translate(531.20,380.90) rotate(-40)" stroke="#1d1d1d" stroke-width="1.25"><line x1="-8.34" y1="0" x2="8.34" y2="0"/><line x1="0" y1="-8.34" x2="0" y2="8.34"/></g>
<g transform="translate(551.70,382.60) rotate(-40)" stroke="#f05a28" stroke-width="1.1"><line x1="-8.34" y1="0" x2="8.34" y2="0"/><line x1="0" y1="-8.34" x2="0" y2="8.34"/></g>
<g transform="translate(368.20,394.60) rotate(33)" stroke="#f05a28" stroke-width="1.1"><line x1="-8.34" y1="0" x2="8.34" y2="0"/><line x1="0" y1="-8.34" x2="0" y2="8.34"/></g>
<g transform="translate(350.75,400.00) rotate(33)" stroke="#1d1d1d" stroke-width="1.25"><line x1="-8.34" y1="0" x2="8.34" y2="0"/><line x1="0" y1="-8.34" x2="0" y2="8.34"/></g>
<g transform="translate(330.75,405.00) rotate(33)" stroke="#f05a28" stroke-width="1.1"><line x1="-8.34" y1="0" x2="8.34" y2="0"/><line x1="0" y1="-8.34" x2="0" y2="8.34"/></g>
<g transform="translate(311.75,410.00) rotate(33)" stroke="#1d1d1d" stroke-width="1.25"><line x1="-8.34" y1="0" x2="8.34" y2="0"/><line x1="0" y1="-8.34" x2="0" y2="8.34"/></g>
<g transform="translate(292.50,413.90) rotate(33)" stroke="#f05a28" stroke-width="1.1"><line x1="-8.34" y1="0" x2="8.34" y2="0"/><line x1="0" y1="-8.34" x2="0" y2="8.34"/></g>
<g transform="translate(273.70,418.80) rotate(33)" stroke="#1d1d1d" stroke-width="1.25"><line x1="-8.34" y1="0" x2="8.34" y2="0"/><line x1="0" y1="-8.34" x2="0" y2="8.34"/></g>
<g transform="translate(254.50,423.20) rotate(33)" stroke="#f05a28" stroke-width="1.1"><line x1="-8.34" y1="0" x2="8.34" y2="0"/><line x1="0" y1="-8.34" x2="0" y2="8.34"/></g>
<g transform="translate(235.50,428.30) rotate(33)" stroke="#1d1d1d" stroke-width="1.25"><line x1="-8.34" y1="0" x2="8.34" y2="0"/><line x1="0" y1="-8.34" x2="0" y2="8.34"/></g>
<g transform="translate(397.50,394.30) rotate(-33)" stroke="#f05a28" stroke-width="1.1"><line x1="-8.34" y1="0" x2="8.34" y2="0"/><line x1="0" y1="-8.34" x2="0" y2="8.34"/></g>
<g transform="translate(416.25,400.00) rotate(-33)" stroke="#1d1d1d" stroke-width="1.25"><line x1="-8.34" y1="0" x2="8.34" y2="0"/><line x1="0" y1="-8.34" x2="0" y2="8.34"/></g>
<g transform="translate(436.20,405.00) rotate(-33)" stroke="#f05a28" stroke-width="1.1"><line x1="-8.34" y1="0" x2="8.34" y2="0"/><line x1="0" y1="-8.34" x2="0" y2="8.34"/></g>
<g transform="translate(455.00,410.00) rotate(-33)" stroke="#1d1d1d" stroke-width="1.25"><line x1="-8.34" y1="0" x2="8.34" y2="0"/><line x1="0" y1="-8.34" x2="0" y2="8.34"/></g>
<g transform="translate(474.25,414.00) rotate(-33)" stroke="#f05a28" stroke-width="1.1"><line x1="-8.34" y1="0" x2="8.34" y2="0"/><line x1="0" y1="-8.34" x2="0" y2="8.34"/></g>
<g transform="translate(493.00,420.00) rotate(-33)" stroke="#1d1d1d" stroke-width="1.25"><line x1="-8.34" y1="0" x2="8.34" y2="0"/><line x1="0" y1="-8.34" x2="0" y2="8.34"/></g>
<g transform="translate(511.80,424.30) rotate(-33)" stroke="#f05a28" stroke-width="1.1"><line x1="-8.34" y1="0" x2="8.34" y2="0"/><line x1="0" y1="-8.34" x2="0" y2="8.34"/></g>
<g transform="translate(531.20,428.20) rotate(-33)" stroke="#1d1d1d" stroke-width="1.25"><line x1="-8.34" y1="0" x2="8.34" y2="0"/><line x1="0" y1="-8.34" x2="0" y2="8.34"/></g>
<g transform="translate(551.00,432.50) rotate(-33)" stroke="#f05a28" stroke-width="1.1"><line x1="-8.34" y1="0" x2="8.34" y2="0"/><line x1="0" y1="-8.34" x2="0" y2="8.34"/></g>
<g transform="translate(370.80,425.60) rotate(19)" stroke="#f05a28" stroke-width="1.1"><line x1="-8.34" y1="0" x2="8.34" y2="0"/><line x1="0" y1="-8.34" x2="0" y2="8.34"/></g>
<g transform="translate(351.70,433.50) rotate(19)" stroke="#1d1d1d" stroke-width="1.25"><line x1="-8.34" y1="0" x2="8.34" y2="0"/><line x1="0" y1="-8.34" x2="0" y2="8.34"/></g>
<g transform="translate(333.90,442.60) rotate(19)" stroke="#f05a28" stroke-width="1.1"><line x1="-8.34" y1="0" x2="8.34" y2="0"/><line x1="0" y1="-8.34" x2="0" y2="8.34"/></g>
<g transform="translate(315.00,450.60) rotate(19)" stroke="#1d1d1d" stroke-width="1.25"><line x1="-8.34" y1="0" x2="8.34" y2="0"/><line x1="0" y1="-8.34" x2="0" y2="8.34"/></g>
<g transform="translate(297.00,458.50) rotate(19)" stroke="#f05a28" stroke-width="1.1"><line x1="-8.34" y1="0" x2="8.34" y2="0"/><line x1="0" y1="-8.34" x2="0" y2="8.34"/></g>
<g transform="translate(277.60,465.60) rotate(19)" stroke="#1d1d1d" stroke-width="1.25"><line x1="-8.34" y1="0" x2="8.34" y2="0"/><line x1="0" y1="-8.34" x2="0" y2="8.34"/></g>
<g transform="translate(259.00,474.60) rotate(19)" stroke="#f05a28" stroke-width="1.1"><line x1="-8.34" y1="0" x2="8.34" y2="0"/><line x1="0" y1="-8.34" x2="0" y2="8.34"/></g>
<g transform="translate(241.10,483.00) rotate(19)" stroke="#1d1d1d" stroke-width="1.25"><line x1="-8.34" y1="0" x2="8.34" y2="0"/><line x1="0" y1="-8.34" x2="0" y2="8.34"/></g>
<g transform="translate(396.60,424.70) rotate(-19)" stroke="#f05a28" stroke-width="1.1"><line x1="-8.34" y1="0" x2="8.34" y2="0"/><line x1="0" y1="-8.34" x2="0" y2="8.34"/></g>
<g transform="translate(416.00,433.00) rotate(-19)" stroke="#1d1d1d" stroke-width="1.25"><line x1="-8.34" y1="0" x2="8.34" y2="0"/><line x1="0" y1="-8.34" x2="0" y2="8.34"/></g>
<g transform="translate(433.30,442.30) rotate(-19)" stroke="#f05a28" stroke-width="1.1"><line x1="-8.34" y1="0" x2="8.34" y2="0"/><line x1="0" y1="-8.34" x2="0" y2="8.34"/></g>
<g transform="translate(452.00,450.00) rotate(-19)" stroke="#1d1d1d" stroke-width="1.25"><line x1="-8.34" y1="0" x2="8.34" y2="0"/><line x1="0" y1="-8.34" x2="0" y2="8.34"/></g>
<g transform="translate(470.00,459.00) rotate(-19)" stroke="#f05a28" stroke-width="1.1"><line x1="-8.34" y1="0" x2="8.34" y2="0"/><line x1="0" y1="-8.34" x2="0" y2="8.34"/></g>
<g transform="translate(489.00,466.00) rotate(-19)" stroke="#1d1d1d" stroke-width="1.25"><line x1="-8.34" y1="0" x2="8.34" y2="0"/><line x1="0" y1="-8.34" x2="0" y2="8.34"/></g>
<g transform="translate(508.00,474.00) rotate(-19)" stroke="#f05a28" stroke-width="1.1"><line x1="-8.34" y1="0" x2="8.34" y2="0"/><line x1="0" y1="-8.34" x2="0" y2="8.34"/></g>
<g transform="translate(525.80,483.00) rotate(-19)" stroke="#1d1d1d" stroke-width="1.25"><line x1="-8.34" y1="0" x2="8.34" y2="0"/><line x1="0" y1="-8.34" x2="0" y2="8.34"/></g>
<g transform="translate(543.80,490.60) rotate(-19)" stroke="#f05a28" stroke-width="1.1"><line x1="-8.34" y1="0" x2="8.34" y2="0"/><line x1="0" y1="-8.34" x2="0" y2="8.34"/></g>
<g transform="translate(370.40,455.90) rotate(12)" stroke="#1d1d1d" stroke-width="1.25"><line x1="-8.34" y1="0" x2="8.34" y2="0"/><line x1="0" y1="-8.34" x2="0" y2="8.34"/></g>
<g transform="translate(351.00,469.40) rotate(12)" stroke="#f05a28" stroke-width="1.1"><line x1="-8.34" y1="0" x2="8.34" y2="0"/><line x1="0" y1="-8.34" x2="0" y2="8.34"/></g>
<g transform="translate(332.40,481.60) rotate(12)" stroke="#1d1d1d" stroke-width="1.25"><line x1="-8.34" y1="0" x2="8.34" y2="0"/><line x1="0" y1="-8.34" x2="0" y2="8.34"/></g>
<g transform="translate(314.40,493.00) rotate(12)" stroke="#f05a28" stroke-width="1.1"><line x1="-8.34" y1="0" x2="8.34" y2="0"/><line x1="0" y1="-8.34" x2="0" y2="8.34"/></g>
<g transform="translate(296.60,505.00) rotate(12)" stroke="#1d1d1d" stroke-width="1.25"><line x1="-8.34" y1="0" x2="8.34" y2="0"/><line x1="0" y1="-8.34" x2="0" y2="8.34"/></g>
<g transform="translate(278.00,518.00) rotate(12)" stroke="#f05a28" stroke-width="1.1"><line x1="-8.34" y1="0" x2="8.34" y2="0"/><line x1="0" y1="-8.34" x2="0" y2="8.34"/></g>
<g transform="translate(262.50,528.30) rotate(12)" stroke="#1d1d1d" stroke-width="1.25"><line x1="-8.34" y1="0" x2="8.34" y2="0"/><line x1="0" y1="-8.34" x2="0" y2="8.34"/></g>
<g transform="translate(369.40,480.00) rotate(12)" stroke="#f05a28" stroke-width="1.1"><line x1="-8.34" y1="0" x2="8.34" y2="0"/><line x1="0" y1="-8.34" x2="0" y2="8.34"/></g>
<g transform="translate(350.00,495.40) rotate(12)" stroke="#1d1d1d" stroke-width="1.25"><line x1="-8.34" y1="0" x2="8.34" y2="0"/><line x1="0" y1="-8.34" x2="0" y2="8.34"/></g>
<g transform="translate(332.00,510.00) rotate(12)" stroke="#f05a28" stroke-width="1.1"><line x1="-8.34" y1="0" x2="8.34" y2="0"/><line x1="0" y1="-8.34" x2="0" y2="8.34"/></g>
<g transform="translate(314.00,524.00) rotate(12)" stroke="#1d1d1d" stroke-width="1.25"><line x1="-8.34" y1="0" x2="8.34" y2="0"/><line x1="0" y1="-8.34" x2="0" y2="8.34"/></g>
<g transform="translate(295.10,540.20) rotate(12)" stroke="#f05a28" stroke-width="1.1"><line x1="-8.34" y1="0" x2="8.34" y2="0"/><line x1="0" y1="-8.34" x2="0" y2="8.34"/></g>
<g transform="translate(279.80,551.20) rotate(12)" stroke="#1d1d1d" stroke-width="1.25"><line x1="-8.34" y1="0" x2="8.34" y2="0"/><line x1="0" y1="-8.34" x2="0" y2="8.34"/></g>
<g transform="translate(371.00,504.00) rotate(7)" stroke="#1d1d1d" stroke-width="1.25"><line x1="-8.34" y1="0" x2="8.34" y2="0"/><line x1="0" y1="-8.34" x2="0" y2="8.34"/></g>
<g transform="translate(351.00,521.60) rotate(7)" stroke="#f05a28" stroke-width="1.1"><line x1="-8.34" y1="0" x2="8.34" y2="0"/><line x1="0" y1="-8.34" x2="0" y2="8.34"/></g>
<g transform="translate(332.50,538.40) rotate(7)" stroke="#1d1d1d" stroke-width="1.25"><line x1="-8.34" y1="0" x2="8.34" y2="0"/><line x1="0" y1="-8.34" x2="0" y2="8.34"/></g>
<g transform="translate(313.90,555.70) rotate(7)" stroke="#f05a28" stroke-width="1.1"><line x1="-8.34" y1="0" x2="8.34" y2="0"/><line x1="0" y1="-8.34" x2="0" y2="8.34"/></g>
<g transform="translate(298.50,568.60) rotate(7)" stroke="#1d1d1d" stroke-width="1.25"><line x1="-8.34" y1="0" x2="8.34" y2="0"/><line x1="0" y1="-8.34" x2="0" y2="8.34"/></g>
<g transform="translate(370.40,527.40) rotate(4)" stroke="#f05a28" stroke-width="1.1"><line x1="-8.34" y1="0" x2="8.34" y2="0"/><line x1="0" y1="-8.34" x2="0" y2="8.34"/></g>
<g transform="translate(351.00,546.70) rotate(4)" stroke="#1d1d1d" stroke-width="1.25"><line x1="-8.34" y1="0" x2="8.34" y2="0"/><line x1="0" y1="-8.34" x2="0" y2="8.34"/></g>
<g transform="translate(334.30,566.10) rotate(4)" stroke="#f05a28" stroke-width="1.1"><line x1="-8.34" y1="0" x2="8.34" y2="0"/><line x1="0" y1="-8.34" x2="0" y2="8.34"/></g>
<g transform="translate(317.80,581.20) rotate(4)" stroke="#1d1d1d" stroke-width="1.25"><line x1="-8.34" y1="0" x2="8.34" y2="0"/><line x1="0" y1="-8.34" x2="0" y2="8.34"/></g>
<g transform="translate(372.40,551.40) rotate(0)" stroke="#1d1d1d" stroke-width="1.25"><line x1="-8.34" y1="0" x2="8.34" y2="0"/><line x1="0" y1="-8.34" x2="0" y2="8.34"/></g>
<g transform="translate(352.70,573.00) rotate(0)" stroke="#f05a28" stroke-width="1.1"><line x1="-8.34" y1="0" x2="8.34" y2="0"/><line x1="0" y1="-8.34" x2="0" y2="8.34"/></g>
<g transform="translate(337.80,590.40) rotate(0)" stroke="#1d1d1d" stroke-width="1.25"><line x1="-8.34" y1="0" x2="8.34" y2="0"/><line x1="0" y1="-8.34" x2="0" y2="8.34"/></g>
<g transform="translate(372.60,574.60) rotate(0)" stroke="#f05a28" stroke-width="1.1"><line x1="-8.34" y1="0" x2="8.34" y2="0"/><line x1="0" y1="-8.34" x2="0" y2="8.34"/></g>
<g transform="translate(354.80,595.20) rotate(0)" stroke="#1d1d1d" stroke-width="1.25"><line x1="-8.34" y1="0" x2="8.34" y2="0"/><line x1="0" y1="-8.34" x2="0" y2="8.34"/></g>
<g transform="translate(373.00,599.00) rotate(0)" stroke="#1d1d1d" stroke-width="1.25"><line x1="-8.34" y1="0" x2="8.34" y2="0"/><line x1="0" y1="-8.34" x2="0" y2="8.34"/></g>
<g transform="translate(397.20,455.80) rotate(-12)" stroke="#1d1d1d" stroke-width="1.25"><line x1="-8.34" y1="0" x2="8.34" y2="0"/><line x1="0" y1="-8.34" x2="0" y2="8.34"/></g>
<g transform="translate(416.00,469.00) rotate(-12)" stroke="#f05a28" stroke-width="1.1"><line x1="-8.34" y1="0" x2="8.34" y2="0"/><line x1="0" y1="-8.34" x2="0" y2="8.34"/></g>
<g transform="translate(435.40,482.00) rotate(-12)" stroke="#1d1d1d" stroke-width="1.25"><line x1="-8.34" y1="0" x2="8.34" y2="0"/><line x1="0" y1="-8.34" x2="0" y2="8.34"/></g>
<g transform="translate(453.00,493.00) rotate(-12)" stroke="#f05a28" stroke-width="1.1"><line x1="-8.34" y1="0" x2="8.34" y2="0"/><line x1="0" y1="-8.34" x2="0" y2="8.34"/></g>
<g transform="translate(471.00,505.00) rotate(-12)" stroke="#1d1d1d" stroke-width="1.25"><line x1="-8.34" y1="0" x2="8.34" y2="0"/><line x1="0" y1="-8.34" x2="0" y2="8.34"/></g>
<g transform="translate(488.40,517.00) rotate(-12)" stroke="#f05a28" stroke-width="1.1"><line x1="-8.34" y1="0" x2="8.34" y2="0"/><line x1="0" y1="-8.34" x2="0" y2="8.34"/></g>
<g transform="translate(505.40,528.00) rotate(-12)" stroke="#1d1d1d" stroke-width="1.25"><line x1="-8.34" y1="0" x2="8.34" y2="0"/><line x1="0" y1="-8.34" x2="0" y2="8.34"/></g>
<g transform="translate(522.30,539.00) rotate(-12)" stroke="#f05a28" stroke-width="1.1"><line x1="-8.34" y1="0" x2="8.34" y2="0"/><line x1="0" y1="-8.34" x2="0" y2="8.34"/></g>
<g transform="translate(398.00,481.00) rotate(-12)" stroke="#f05a28" stroke-width="1.1"><line x1="-8.34" y1="0" x2="8.34" y2="0"/><line x1="0" y1="-8.34" x2="0" y2="8.34"/></g>
<g transform="translate(418.00,495.00) rotate(-12)" stroke="#1d1d1d" stroke-width="1.25"><line x1="-8.34" y1="0" x2="8.34" y2="0"/><line x1="0" y1="-8.34" x2="0" y2="8.34"/></g>
<g transform="translate(436.00,510.00) rotate(-12)" stroke="#f05a28" stroke-width="1.1"><line x1="-8.34" y1="0" x2="8.34" y2="0"/><line x1="0" y1="-8.34" x2="0" y2="8.34"/></g>
<g transform="translate(454.00,524.00) rotate(-12)" stroke="#1d1d1d" stroke-width="1.25"><line x1="-8.34" y1="0" x2="8.34" y2="0"/><line x1="0" y1="-8.34" x2="0" y2="8.34"/></g>
<g transform="translate(472.00,538.00) rotate(-12)" stroke="#f05a28" stroke-width="1.1"><line x1="-8.34" y1="0" x2="8.34" y2="0"/><line x1="0" y1="-8.34" x2="0" y2="8.34"/></g>
<g transform="translate(488.00,551.00) rotate(-12)" stroke="#1d1d1d" stroke-width="1.25"><line x1="-8.34" y1="0" x2="8.34" y2="0"/><line x1="0" y1="-8.34" x2="0" y2="8.34"/></g>
<g transform="translate(505.00,564.00) rotate(-12)" stroke="#f05a28" stroke-width="1.1"><line x1="-8.34" y1="0" x2="8.34" y2="0"/><line x1="0" y1="-8.34" x2="0" y2="8.34"/></g>
<g transform="translate(397.00,504.00) rotate(-7)" stroke="#1d1d1d" stroke-width="1.25"><line x1="-8.34" y1="0" x2="8.34" y2="0"/><line x1="0" y1="-8.34" x2="0" y2="8.34"/></g>
<g transform="translate(417.00,521.00) rotate(-7)" stroke="#f05a28" stroke-width="1.1"><line x1="-8.34" y1="0" x2="8.34" y2="0"/><line x1="0" y1="-8.34" x2="0" y2="8.34"/></g>
<g transform="translate(435.40,538.00) rotate(-7)" stroke="#1d1d1d" stroke-width="1.25"><line x1="-8.34" y1="0" x2="8.34" y2="0"/><line x1="0" y1="-8.34" x2="0" y2="8.34"/></g>
<g transform="translate(452.00,554.00) rotate(-7)" stroke="#f05a28" stroke-width="1.1"><line x1="-8.34" y1="0" x2="8.34" y2="0"/><line x1="0" y1="-8.34" x2="0" y2="8.34"/></g>
<g transform="translate(470.00,568.00) rotate(-7)" stroke="#1d1d1d" stroke-width="1.25"><line x1="-8.34" y1="0" x2="8.34" y2="0"/><line x1="0" y1="-8.34" x2="0" y2="8.34"/></g>
<g transform="translate(486.00,583.00) rotate(-7)" stroke="#f05a28" stroke-width="1.1"><line x1="-8.34" y1="0" x2="8.34" y2="0"/><line x1="0" y1="-8.34" x2="0" y2="8.34"/></g>
<g transform="translate(397.00,528.00) rotate(-4)" stroke="#f05a28" stroke-width="1.1"><line x1="-8.34" y1="0" x2="8.34" y2="0"/><line x1="0" y1="-8.34" x2="0" y2="8.34"/></g>
<g transform="translate(417.00,546.00) rotate(-4)" stroke="#1d1d1d" stroke-width="1.25"><line x1="-8.34" y1="0" x2="8.34" y2="0"/><line x1="0" y1="-8.34" x2="0" y2="8.34"/></g>
<g transform="translate(434.00,565.00) rotate(-4)" stroke="#f05a28" stroke-width="1.1"><line x1="-8.34" y1="0" x2="8.34" y2="0"/><line x1="0" y1="-8.34" x2="0" y2="8.34"/></g>
<g transform="translate(451.00,581.00) rotate(-4)" stroke="#1d1d1d" stroke-width="1.25"><line x1="-8.34" y1="0" x2="8.34" y2="0"/><line x1="0" y1="-8.34" x2="0" y2="8.34"/></g>
<g transform="translate(466.80,596.90) rotate(-4)" stroke="#f05a28" stroke-width="1.1"><line x1="-8.34" y1="0" x2="8.34" y2="0"/><line x1="0" y1="-8.34" x2="0" y2="8.34"/></g>
<g transform="translate(395.00,551.30) rotate(0)" stroke="#1d1d1d" stroke-width="1.25"><line x1="-8.34" y1="0" x2="8.34" y2="0"/><line x1="0" y1="-8.34" x2="0" y2="8.34"/></g>
<g transform="translate(413.50,572.00) rotate(0)" stroke="#f05a28" stroke-width="1.1"><line x1="-8.34" y1="0" x2="8.34" y2="0"/><line x1="0" y1="-8.34" x2="0" y2="8.34"/></g>
<g transform="translate(430.50,589.90) rotate(0)" stroke="#1d1d1d" stroke-width="1.25"><line x1="-8.34" y1="0" x2="8.34" y2="0"/><line x1="0" y1="-8.34" x2="0" y2="8.34"/></g>
<g transform="translate(445.50,608.40) rotate(0)" stroke="#f05a28" stroke-width="1.1"><line x1="-8.34" y1="0" x2="8.34" y2="0"/><line x1="0" y1="-8.34" x2="0" y2="8.34"/></g>
<g transform="translate(395.00,574.60) rotate(0)" stroke="#f05a28" stroke-width="1.1"><line x1="-8.34" y1="0" x2="8.34" y2="0"/><line x1="0" y1="-8.34" x2="0" y2="8.34"/></g>
<g transform="translate(412.80,595.10) rotate(0)" stroke="#1d1d1d" stroke-width="1.25"><line x1="-8.34" y1="0" x2="8.34" y2="0"/><line x1="0" y1="-8.34" x2="0" y2="8.34"/></g>
<g transform="translate(429.00,614.80) rotate(0)" stroke="#f05a28" stroke-width="1.1"><line x1="-8.34" y1="0" x2="8.34" y2="0"/><line x1="0" y1="-8.34" x2="0" y2="8.34"/></g>
<g transform="translate(394.80,599.00) rotate(0)" stroke="#1d1d1d" stroke-width="1.25"><line x1="-8.34" y1="0" x2="8.34" y2="0"/><line x1="0" y1="-8.34" x2="0" y2="8.34"/></g>
<g transform="translate(411.60,618.90) rotate(0)" stroke="#f05a28" stroke-width="1.1"><line x1="-8.34" y1="0" x2="8.34" y2="0"/><line x1="0" y1="-8.34" x2="0" y2="8.34"/></g>
<g transform="translate(391.30,627.20) rotate(45)" stroke="#f05a28" stroke-width="1.1"><line x1="-8.34" y1="0" x2="8.34" y2="0"/><line x1="0" y1="-8.34" x2="0" y2="8.34"/></g>
<circle cx="377.3" cy="616" r="3.8" fill="#8cc63f"/>
<circle cx="371.9" cy="627.1" r="3.8" fill="#8cc63f"/>
<circle cx="371.9" cy="648.5" r="3.8" fill="#8cc63f"/>
<ellipse cx="385" cy="648.5" rx="3" ry="8.8" fill="none" stroke="#8cc63f" stroke-width="0.9"/>
<circle cx="371.9" cy="673.4" r="3.8" fill="#8cc63f"/>
<ellipse cx="385" cy="673.4" rx="3" ry="8.8" fill="none" stroke="#8cc63f" stroke-width="0.9"/>
<circle cx="371.9" cy="699.2" r="3.8" fill="#8cc63f"/>
<ellipse cx="385" cy="699.2" rx="3" ry="8.8" fill="none" stroke="#8cc63f" stroke-width="0.9"/>
<circle cx="371.9" cy="725" r="3.8" fill="#8cc63f"/>
<ellipse cx="385" cy="725" rx="3" ry="8.8" fill="none" stroke="#8cc63f" stroke-width="0.9"/>
<ellipse cx="385" cy="750.3" rx="3" ry="8.8" fill="none" stroke="#8cc63f" stroke-width="0.9"/>
<g transform="translate(371.80,750.80) rotate(45)" stroke="#8cc63f" stroke-width="1.1"><line x1="-8.34" y1="0" x2="8.34" y2="0"/><line x1="0" y1="-8.34" x2="0" y2="8.34"/></g>
<ellipse cx="371.8" cy="763.8" rx="9.3" ry="3.1" fill="none" stroke="#8cc63f" stroke-width="0.9"/>
<polygon points="384,429.4 390.7,437.3 385.4,439.7" fill="#000"/>
<polygon points="370.2,615.7 359.7,619.5 362.7,623.9" fill="#000"/>
<text x="380.3" y="435.3" font-size="7.5" font-weight="bold" fill="#8c8c8c">1</text>
<text x="410.8" y="64.3" font-size="10.3" fill="#f05a28" text-anchor="start">2</text>
<text x="448.8" y="116" font-size="10.3" fill="#f05a28" text-anchor="start">4</text>
<text x="486.3" y="192.4" font-size="10.3" fill="#f05a28" text-anchor="start">6</text>
<text x="525" y="268.4" font-size="10.3" fill="#f05a28" text-anchor="start">8</text>
<text x="563.2" y="359.3" font-size="10.3" fill="#f05a28" text-anchor="start">10</text>
<text x="339.3" y="116" font-size="10.3" fill="#151515" text-anchor="end">3</text>
<text x="300.8" y="192.4" font-size="10.3" fill="#151515" text-anchor="end">5</text>
<text x="261.6" y="268.4" font-size="10.3" fill="#151515" text-anchor="end">7</text>
<text x="224.4" y="353.9" font-size="9.6" fill="#151515" text-anchor="end">9</text>
<text x="339" y="623.5" font-size="10.5" fill="#111" text-anchor="start" textLength="17" lengthAdjust="spacingAndGlyphs" stroke="#111" stroke-width="0.3">end</text>
<text x="397.5" y="652" font-size="10.5" fill="#43b049" text-anchor="start" textLength="22.3" lengthAdjust="spacingAndGlyphs" stroke="#43b049" stroke-width="0.25">stem</text>
<text transform="translate(393.3,441.9) rotate(15.5)" font-size="10.2" fill="#111" stroke="#111" stroke-width="0.2" textLength="24.6" lengthAdjust="spacingAndGlyphs">begin</text>
<text y="69.3" font-size="26.4" fill="#111"><tspan x="33.8" textLength="39.6" lengthAdjust="spacingAndGlyphs">Fall</tspan> <tspan x="80.0" textLength="50" lengthAdjust="spacingAndGlyphs">Leaf</tspan> <tspan x="134.9" textLength="91" lengthAdjust="spacingAndGlyphs">Crochet</tspan> <tspan x="232.4" textLength="67.5" lengthAdjust="spacingAndGlyphs">Chart</tspan></text>
<circle cx="31.25" cy="120.5" r="5" fill="#000"/>
<text x="60.75" y="125.5" font-size="15" fill="#111" text-anchor="start" textLength="63" lengthAdjust="spacingAndGlyphs">slip stitch</text>
<ellipse cx="31.25" cy="151.25" rx="11" ry="3.2" fill="none" stroke="#111" stroke-width="1"/>
<text x="60.75" y="154.5" font-size="15" fill="#111" text-anchor="start" textLength="36" lengthAdjust="spacingAndGlyphs">chain</text>
<text x="60.75" y="188" font-size="15" fill="#111" text-anchor="start" textLength="94.25" lengthAdjust="spacingAndGlyphs">single crochet</text>
<text x="60.75" y="208" font-size="15" fill="#111" text-anchor="start" textLength="9.3" lengthAdjust="spacingAndGlyphs">&amp;</text>
<text x="60.75" y="226.75" font-size="15" fill="#111" text-anchor="start" textLength="126.75" lengthAdjust="spacingAndGlyphs">split single crochet</text>
<g transform="translate(31.25,203.25) rotate(45)" stroke="#111" stroke-width="1.1"><line x1="-10.47" y1="0" x2="10.47" y2="0"/><line x1="0" y1="-10.47" x2="0" y2="10.47"/></g>
<text x="422.5" y="728.6" font-size="22" fill="#b3b3b3" font-family="'DejaVu Serif','Liberation Serif',serif" textLength="253" lengthAdjust="spacingAndGlyphs">Tutorial © Craft Passion</text>
</svg>
</body></html>
